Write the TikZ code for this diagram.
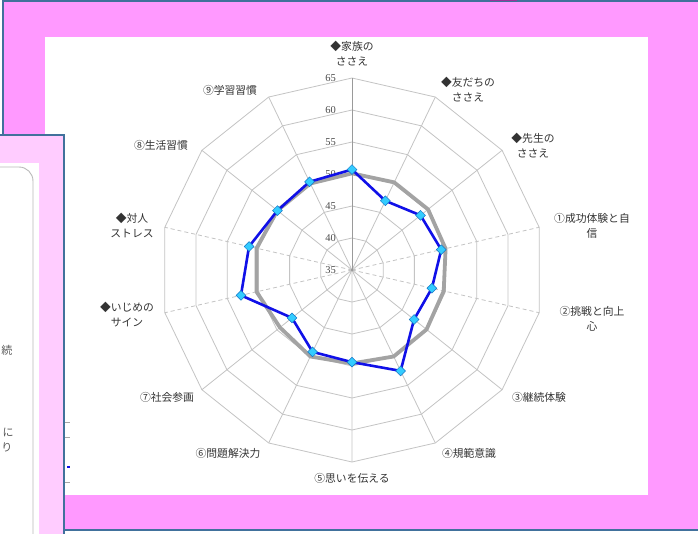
\documentclass[tikz,border=0pt]{standalone}
\usepackage{fontspec}
\setmainfont{Liberation Serif}
\newfontfamily\jp{Noto Sans CJK JP}
\usetikzlibrary{shapes.geometric}
\definecolor{framepink}{HTML}{FF99FF}
\definecolor{panelpink}{HTML}{FFCCFF}
\definecolor{frameblue}{HTML}{41719C}
\definecolor{gridgray}{HTML}{C4C4C4}
\definecolor{axisgray}{HTML}{9A9A9A}
\definecolor{seriesgray}{HTML}{A3A3A3}
\definecolor{seriesblue}{HTML}{1010E8}
\definecolor{markcyan}{HTML}{33CCFF}
\definecolor{txt}{HTML}{333333}
\begin{document}
\begin{tikzpicture}[x=1pt,y=-1pt,
  lbl/.style={font=\jp\fontsize{10.8}{15}\selectfont, text=txt, align=center, inner sep=0pt},
  num/.style={font=\fontsize{10.5}{12}\selectfont, text=black!70, anchor=east, inner sep=0pt},
  ring/.style={draw=gridgray, line width=0.8pt},
  spoke/.style={draw=gridgray, line width=0.8pt},
  dspoke/.style={draw=gridgray, line width=0.8pt, dashed, dash pattern=on 4pt off 3pt},
  topaxis/.style={draw=axisgray, line width=0.9pt},
  mk/.style={diamond, fill=markcyan, draw=cyan!55!blue, line width=0.5pt, minimum size=10pt, inner sep=0pt},
  frag/.style={font=\jp\fontsize{11}{13}\selectfont, text=black!65, inner sep=0pt},
]
\useasboundingbox (0,0) rectangle (698,533);
% main frame
\fill[framepink] (3,1) rectangle (720,530);
\draw[frameblue, line width=1.6pt] (720,1) -- (3,1) -- (3,530) -- (720,530);
\fill[white] (45,37) rectangle (648,495);
\fill[violet!80] (490,-1) rectangle (517,1.0);

% radar grid
\begin{scope}[shift={(352,270)}]
  \foreach \i in {1,...,6} {
    \draw[ring] (-90:\i*32) \foreach \k in {1,...,13} { -- ({25.714*\k-90}:\i*32) } -- cycle;
  }
  \foreach \k/\st in {1/spoke,2/spoke,3/dspoke,4/dspoke,5/spoke,6/spoke,7/spoke,8/spoke,9/spoke,10/dspoke,11/dspoke,12/spoke,13/spoke} {
    \draw[\st] (0,0) -- ({25.714*\k-90}:192);
  }
  \draw[topaxis] (0,0) -- (-90:192);
  \fill[axisgray] (0,0) circle (1.5pt);
\end{scope}

% value labels
\foreach \i in {0,...,6} {
  \pgfmathtruncatemacro{\val}{35+5*\i}
  \node[num] (v\i) at (336,{270-32*\i}) {\val};
}

% series
\begin{scope}[shift={(352,270)}]
  \foreach \v [count=\k from 0] in {50.1,50.2,50.2,50.0,49.7,49.9,50.0,49.6,50.0,49.4,50.3,50.3,49.9,50.0} {
    \coordinate (g\k) at ({25.714*\k-90}:{(\v-35)*6.4});
  }
  \foreach \v [count=\k from 0] in {50.7,47.0,48.7,49.3,47.8,47.4,52.5,49.4,49.2,47.0,52.8,51.5,49.9,50.3} {
    \coordinate (b\k) at ({25.714*\k-90}:{(\v-35)*6.4});
  }
\end{scope}
\draw[seriesgray, line width=3.8pt, line join=round]
  (g0) -- (g1) -- (g2) -- (g3) -- (g4) -- (g5) -- (g6) -- (g7) -- (g8) -- (g9) -- (g10) -- (g11) -- (g12) -- (g13) -- cycle;
\draw[seriesblue, line width=2.6pt, line join=round]
  (b0) -- (b1) -- (b2) -- (b3) -- (b4) -- (b5) -- (b6) -- (b7) -- (b8) -- (b9) -- (b10) -- (b11) -- (b12) -- (b13) -- cycle;
\foreach \k in {0,...,13} { \node[mk] (m\k) at (b\k) {}; }

% axis labels
\node[lbl] (l0) at (352,54) {◆家族の\\ささえ};
\node[lbl] (l1) at (468,90) {◆友だちの\\ささえ};
\node[lbl] (l2) at (533,146) {◆先生の\\ささえ};
\node[lbl] (l3) at (592,226) {①成功体験と自\\信};
\node[lbl] (l4) at (592,319) {②挑戦と向上\\心};
\node[lbl] (l5) at (539,397) {③継続体験};
\node[lbl] (l6) at (469,453) {④規範意識};
\node[lbl] (l7) at (352,478) {⑤思いを伝える};
\node[lbl] (l8) at (228,453) {⑥問題解決力};
\node[lbl] (l9) at (167,397) {⑦社会参画};
\node[lbl] (l10) at (127,315) {◆いじめの\\サイン};
\node[lbl] (l11) at (132,225) {◆対人\\ストレス};
\node[lbl] (l12) at (161,145) {⑧生活習慣};
\node[lbl] (l13) at (230,90) {⑨学習習慣};

% fragments right of the left panel
\draw[gray!70, line width=0.7pt] (65,422) -- (70,422) (65,437) -- (70,437) (65,482) -- (70,482);
\fill[seriesblue] (67,465.5) rectangle (70,468);

% left panel
\fill[panelpink] (-2,135) rectangle (64,540);
\fill[white] (-2,163) rectangle (39,540);
\draw[gray!55, line width=0.9pt, rounded corners=14pt] (-30,167) -- (33,167) -- (33,560);
\node[frag] (f1) at (7,350) {続};
\node[frag] (f2) at (8,432) {に};
\node[frag] (f3) at (7,447) {り};
\draw[frameblue, line width=1.6pt] (-2,135) -- (64,135) -- (64,540);
\end{tikzpicture}
\end{document}
